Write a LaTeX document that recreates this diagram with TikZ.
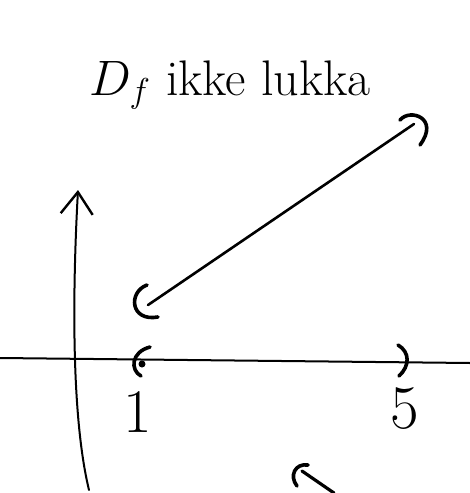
\documentclass[tikz,border=0pt]{standalone}
\usepackage{tikz}
\usetikzlibrary{arrows.meta}
\tikzset{
  pen/.style={line width=1pt,line cap=round,line join=round},
  brk/.style={line width=1.8pt,line cap=round},
  hand/.style={font=\fontsize{25}{30}\selectfont,inner sep=0pt},
  digit/.style={font=\fontsize{31}{36}\selectfont,inner sep=0pt},
}

\begin{document}
\begin{tikzpicture}[x=0.5pt,y=-0.5pt]
  \useasboundingbox (0,0) rectangle (470,493);
  \node[hand,anchor=base] (title) at (230,95) {$D_f$ ikke lukka};
  % axes
  \coordinate (ybot) at (89,490);
  \coordinate (ytop) at (78,190);
  \coordinate (xl) at (0,358);
  \coordinate (xr) at (470,363);
  \draw[pen,-{Straight Barb[length=11pt,width=16pt,line width=1.2pt]}]
    (ybot) .. controls (72,420) and (72,300) .. (ytop);
  \draw[pen] (xl) -- (xr);
  % interval on the x-axis
  \coordinate (a) at (142,364);
  \coordinate (b) at (405,362);
  \draw[brk] (150,347) .. controls (131,352) and (130,370) .. (141,376);
  \fill (a) circle (3.5);
  \draw[brk] (398,345) .. controls (410,352) and (410,366) .. (399,376);
  \node[digit] (one) at (138,412) {1};
  \node[digit] (five) at (405,409) {5};
  % graph
  \coordinate (p) at (148,305);
  \coordinate (q) at (414,124);
  \draw[pen,line width=1.3pt] (p) -- (q);
  \draw[brk] (147,285) .. controls (128,292) and (130,322) .. (158,317);
  \draw[brk] (400,120) .. controls (410,108) and (440,118) .. (420,145);
  % pointer at bottom
  \coordinate (r) at (334,493);
  \coordinate (s) at (302,471);
  \draw[pen,line width=1.6pt] (r) -- (s);
  \draw[brk] (308,465) .. controls (295,463) and (289,476) .. (297,486);
\end{tikzpicture}
\end{document}
